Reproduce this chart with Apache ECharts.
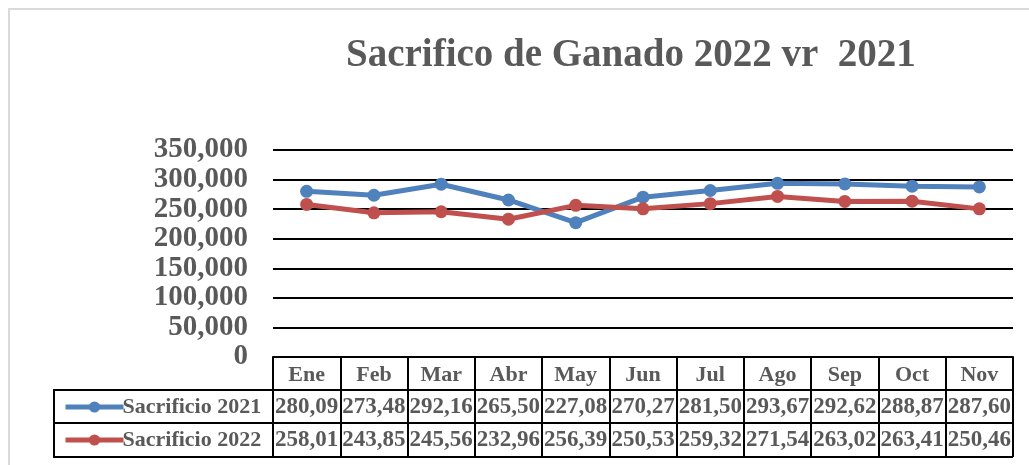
<!DOCTYPE html>
<html>
<head>
<meta charset="utf-8">
<script src="https://cdn.jsdelivr.net/npm/echarts@6/dist/echarts.min.js"></script>
<style>
  html, body { margin: 0; padding: 0; background: #fff; }
  #chart { width: 1029px; height: 465px; }
</style>
</head>
<body>
<div id="chart"></div>
<script>
  var meses = ['Ene', 'Feb', 'Mar', 'Abr', 'May', 'Jun', 'Jul', 'Ago', 'Sep', 'Oct', 'Nov'];
  var sacrificio2021 = [280090, 273480, 292160, 265500, 227080, 270270, 281500, 293670, 292620, 288870, 287600];
  var sacrificio2022 = [258010, 243850, 245560, 232960, 256390, 250530, 259320, 271540, 263020, 263410, 250460];
  var yTicks = [0, 50000, 100000, 150000, 200000, 250000, 300000, 350000];

  var serif = 'Liberation Serif';
  var gris = '#595959';

  // texto de la celda: 280090 -> "280,09"
  function celda (v) {
    return (v / 1000).toFixed(2).replace('.', ',');
  }

  var chart = echarts.init(document.getElementById('chart'));

  function filaEje (datos, offset) {
    return {
      type: 'category',
      data: meses,
      position: 'bottom',
      offset: offset,
      axisLine: { show: false },
      axisTick: { show: false },
      axisLabel: {
        interval: 0,
        margin: 6,
        fontFamily: serif,
        fontWeight: 'bold',
        fontSize: 23,
        color: gris,
        formatter: function (value, index) {
          return celda(datos[index]);
        }
      }
    };
  }

  var option = {
    animation: false,
    backgroundColor: '#fff',
    title: {
      text: 'Sacrifico de Ganado 2022 vr  2021',
      left: 341,
      top: 31,
      textStyle: {
        fontFamily: serif,
        fontWeight: 'bold',
        fontSize: 39,
        color: gris
      }
    },
    legend: {
      orient: 'vertical',
      left: 58,
      top: 391,
      itemGap: 11,
      itemWidth: 58,
      itemHeight: 14,
      data: ['Sacrificio 2021', 'Sacrificio 2022'],
      lineStyle: { width: 5 },
      itemStyle: { borderWidth: 0 },
      textStyle: {
        fontFamily: serif,
        fontWeight: 'bold',
        fontSize: 22,
        color: gris,
        padding: [0, 0, 0, -6]
      }
    },
    grid: {
      left: 273,
      right: 16,
      top: 150,
      bottom: 108
    },
    xAxis: [
      {
        type: 'category',
        data: meses,
        position: 'bottom',
        boundaryGap: true,
        axisLine: { show: true, lineStyle: { color: '#000', width: 2 } },
        axisTick: { show: true, interval: 0, length: 100, lineStyle: { color: '#000', width: 2 } },
        axisLabel: {
          interval: 0,
          margin: 7,
          fontFamily: serif,
          fontWeight: 'bold',
          fontSize: 22,
          color: gris
        }
      },
      filaEje(sacrificio2021, 33),
      filaEje(sacrificio2022, 66)
    ],
    yAxis: {
      type: 'value',
      min: yTicks[0],
      max: yTicks[yTicks.length - 1],
      interval: yTicks[1] - yTicks[0],
      axisLine: { show: false },
      axisTick: { show: false },
      splitLine: { show: true, lineStyle: { color: '#000', width: 2 } },
      axisLabel: {
        margin: 25,
        showMinLabel: true,
        showMaxLabel: true,
        hideOverlap: false,
        fontFamily: serif,
        fontWeight: 'bold',
        fontSize: 29,
        lineHeight: 28,
        color: gris,
        formatter: function (v) {
          return v.toLocaleString('en-US');
        }
      }
    },
    graphic: [
      // marco gris del grafico
      { type: 'rect', shape: { x: 9, y: 9, width: 1040, height: 480 }, style: { fill: 'none', stroke: '#D9D9D9', lineWidth: 2 } },
      // lineas de la tabla de datos
      { type: 'line', shape: { x1: 54, y1: 390, x2: 1013, y2: 390 }, style: { stroke: '#000', lineWidth: 2 } },
      { type: 'line', shape: { x1: 54, y1: 423, x2: 1013, y2: 423 }, style: { stroke: '#000', lineWidth: 2 } },
      { type: 'line', shape: { x1: 54, y1: 457, x2: 1013, y2: 457 }, style: { stroke: '#000', lineWidth: 2 } },
      { type: 'line', shape: { x1: 54, y1: 389, x2: 54, y2: 458 }, style: { stroke: '#000', lineWidth: 2 } }
    ],
    series: [
      {
        name: 'Sacrificio 2021',
        type: 'line',
        data: sacrificio2021,
        symbol: 'circle',
        symbolSize: 13,
        color: '#4F81BD',
        lineStyle: { width: 5 }
      },
      {
        name: 'Sacrificio 2022',
        type: 'line',
        data: sacrificio2022,
        symbol: 'circle',
        symbolSize: 13,
        color: '#C0504D',
        lineStyle: { width: 5 }
      }
    ]
  };

  chart.setOption(option);
</script>
</body>
</html>
